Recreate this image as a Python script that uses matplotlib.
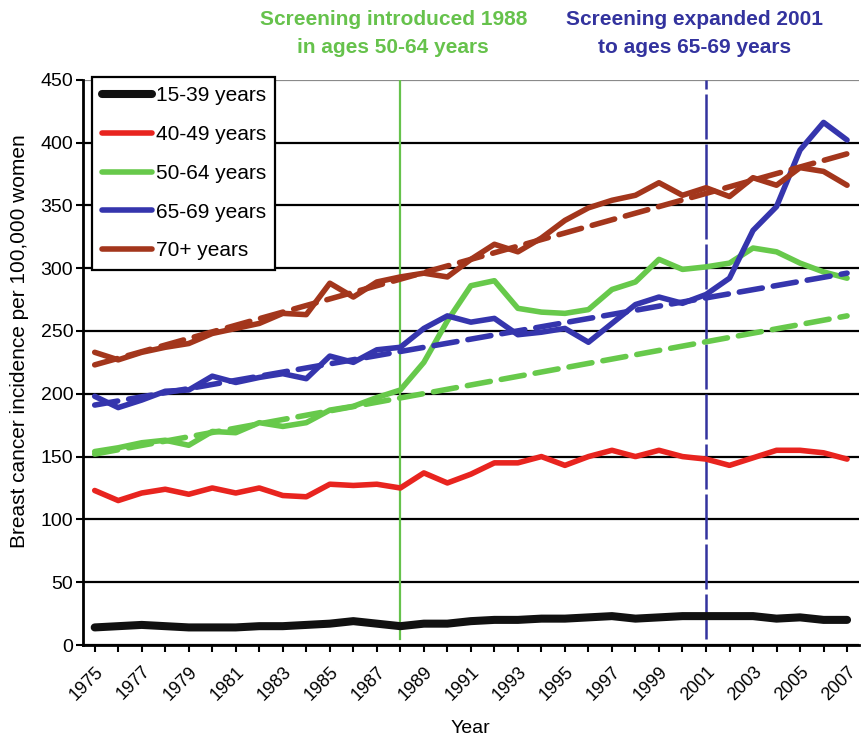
import numpy as np
import matplotlib
matplotlib.use("Agg")
import matplotlib.pyplot as plt

# --------------------- Data --------------------- #
years = list(range(1975, 2008))

ages_15_39 = [14, 15, 16, 15, 14, 14, 14, 15, 15, 16, 17, 19, 17, 15, 17, 17,
              19, 20, 20, 21, 21, 22, 23, 21, 22, 23, 23, 23, 23, 21, 22, 20, 20]
ages_40_49 = [123, 115, 121, 124, 120, 125, 121, 125, 119, 118, 128, 127, 128, 125, 137, 129,
              136, 145, 145, 150, 143, 150, 155, 150, 155, 150, 148, 143, 149, 155, 155, 153, 148]
ages_50_64 = [154, 157, 161, 163, 159, 170, 169, 177, 174, 177, 187, 190, 197, 203, 225, 258,
              286, 290, 268, 265, 264, 267, 283, 289, 307, 299, 301, 304, 316, 313, 304, 297, 292]
ages_65_69 = [198, 189, 195, 202, 203, 214, 209, 213, 216, 212, 230, 225, 235, 237, 252, 262,
              257, 260, 247, 249, 252, 241, 256, 271, 277, 272, 279, 292, 330, 349, 394, 416, 402]
ages_70_up = [233, 227, 233, 237, 240, 248, 252, 256, 264, 263, 288, 277, 289, 293, 296, 293,
              307, 319, 313, 324, 338, 348, 354, 358, 368, 358, 364, 357, 372, 366, 380, 377, 366]

# linear trends (value at 1975 and at 2007)
trend_years = [1975, 2007]
trend_50_64 = [152, 262]
trend_65_69 = [191, 296]
trend_70_up = [223, 391]

labels = ["15-39 years", "40-49 years", "50-64 years", "65-69 years", "70+ years"]
colors = ["#111111", "#e8241f", "#67c94b", "#3535ad", "#a3361c"]

screen_years = [1988, 2001]
screen_notes = ["Screening introduced 1988\nin ages 50-64 years",
                "Screening expanded 2001\nto ages 65-69 years"]
note_colors = ["#66c24c", "#33339e"]
note_shift = [-0.3, -0.5]

# --------------------- Plot --------------------- #
plt.rcParams["font.family"] = ["Liberation Sans", "DejaVu Sans"]

fig = plt.figure(figsize=(8.64, 7.38), dpi=100)
ax = fig.add_axes([0.096, 0.126, 0.898, 0.766])

ax.set_xlim(1974.5, 2007.5)
ax.set_ylim(0, 450)
ax.set_yticks(np.arange(0, 451, 50))
ax.grid(axis="y", color="black", linewidth=1.6)
ax.set_axisbelow(True)
ax.yaxis.get_gridlines()[-1].set_color("#8a8a8a")
for sp in ("top", "right"):
    ax.spines[sp].set_visible(False)
for sp in ("left", "bottom"):
    ax.spines[sp].set_linewidth(2.0)

# screening markers
ax.plot([screen_years[0]] * 2, [5, 450], color=note_colors[0], lw=1.6, zorder=2)
ax.plot([screen_years[1]] * 2, [5, 450], color=note_colors[1], lw=1.8,
        dashes=(18, 2), zorder=2)

series = [ages_15_39, ages_40_49, ages_50_64, ages_65_69, ages_70_up]
widths = [5.8, 4.0, 4.0, 4.0, 4.0]
handles = []
for vals, lab, col, lw in zip(series, labels, colors, widths):
    h, = ax.plot(years, vals, color=col, lw=lw, solid_capstyle="round",
                 solid_joinstyle="round", label=lab, zorder=3)
    handles.append(h)

for tr, col in zip([trend_50_64, trend_65_69, trend_70_up], colors[2:]):
    ax.plot(trend_years, tr, color=col, lw=4.0, dashes=(4.2, 2.0),
            dash_capstyle="round", zorder=3)

for yr, txt, col, dx in zip(screen_years, screen_notes, note_colors, note_shift):
    ax.annotate(txt, xy=(yr, 450), xytext=(yr + dx, 487), textcoords="data",
                ha="center", va="center", color=col, fontsize=15,
                fontweight="bold", annotation_clip=False, linespacing=1.6)

ax.set_xticks(years)
ax.set_xticklabels([str(y) if (y - 1975) % 2 == 0 else "" for y in years],
                   rotation=45, ha="right", va="top", rotation_mode="anchor",
                   fontsize=13)
ax.tick_params(axis="x", length=5, width=1.5, direction="out", pad=8)
ax.tick_params(axis="y", length=5, width=1.5, direction="out", labelsize=14, pad=2)

ax.set_xlabel("Year", fontsize=14, labelpad=12)
ax.set_ylabel("Breast cancer incidence per 100,000 women", fontsize=15)
ax.yaxis.set_label_coords(-0.069, 0.538)

leg = ax.legend(handles=handles, loc="upper left", bbox_to_anchor=(0.012, 1.005),
                fontsize=15, handlelength=2.4, labelspacing=0.95, borderaxespad=0,
                borderpad=0.45, handletextpad=0.2, fancybox=False, framealpha=1)
leg.get_frame().set_edgecolor("black")
leg.get_frame().set_linewidth(1.6)

plt.savefig("out.png", dpi=100)
plt.close()
